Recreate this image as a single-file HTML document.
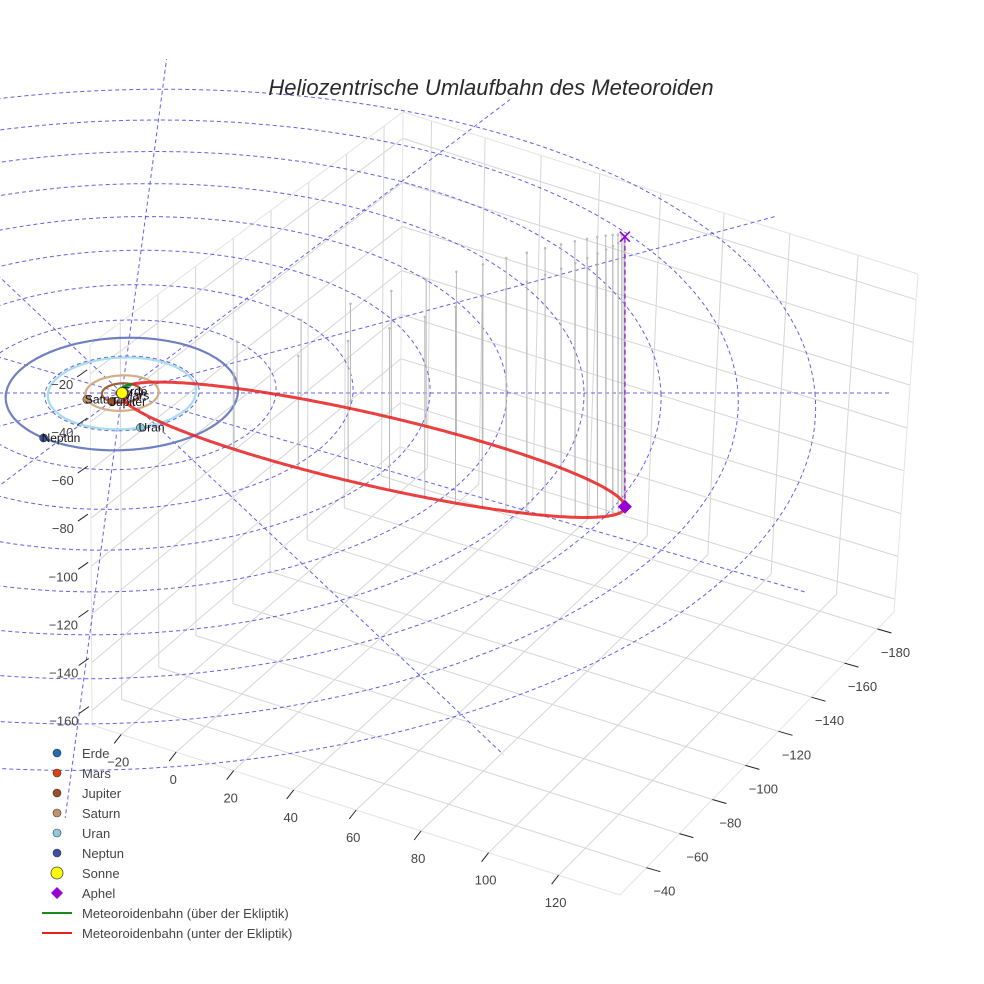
<!DOCTYPE html>
<html><head><meta charset="utf-8">
<style>
html,body{margin:0;padding:0;background:#fff;}
svg{display:block;font-family:"Liberation Sans",Arial,sans-serif;}
</style></head>
<body>
<svg id="chart" width="984" height="984" viewBox="0 0 984 984" xmlns="http://www.w3.org/2000/svg">
<rect x="0" y="0" width="984" height="984" fill="#fff"/>
<g id="grid"></g>
<g id="ecl"></g>
<g id="orbits"></g>
<g id="drops"></g>
<g id="meteor"></g>
<g id="marks"></g>
<g id="axes"></g>
<text x="491" y="95" text-anchor="middle" font-size="22" font-style="italic" fill="#2a2a2a">Heliozentrische Umlaufbahn des Meteoroiden</text>
<g id="legend"></g>
</svg>
<script>
// ---- data ----
const xTicks = [-20, 0, 20, 40, 60, 80, 100, 120];
const yTicks = [-180, -160, -140, -120, -100, -80, -60, -40];
const zTicks = [-160, -140, -120, -100, -80, -60, -40, -20];
const ringRadii = [20, 40, 60, 80, 100, 120, 140, 160, 180];
const radialAngles = [0, 30, 60, 90, 120, 150, 180, 210, 240, 270, 300, 330];
const planetNames = ["Erde", "Mars", "Jupiter", "Saturn", "Uran", "Neptun"];
const planetRadii = [1.0, 1.52, 5.2, 9.5, 19.2, 30.1];
const planetAngles = [-60, 60, 116, 159, 72, 128];
const planetColors = ["#1f6fb0", "#d9430f", "#9a4e2b", "#c4926a", "#8ec9dd", "#3d4fa3"];
const orbitColors = ["#1f6fb0", "#d9430f", "#a0603a", "#d2ad85", "#a9dcec", "#6f81c2"];
const aphelion = [131.8, -88, -123.6];
const minorAxis = [0, -10.5, 7.5];
const perihelionDist = [1.0];
const dropCount = [40];
const radialLength = [200];

// ---- projections ----
const NS = "http://www.w3.org/2000/svg";
const XR = [-31, 137], YR = [-190, -24], ZR = [-166, -8];
const corner = {
  "000": [400, 460], "100": [894, 612], "010": [92, 725], "110": [620, 895],
  "001": [403, 112], "101": [918, 274], "011": [90, 345], "111": [635, 475]
};
function warp(t) { const k = 0.2; return (t + k * t * t) / (1 + k); }
function box(x, y, z) {
  const tx = warp((x - XR[0]) / (XR[1] - XR[0]));
  const ty = (y - YR[0]) / (YR[1] - YR[0]);
  const tz = (z - ZR[0]) / (ZR[1] - ZR[0]);
  let px = 0, py = 0;
  for (const key in corner) {
    const a = key[0] === "1" ? tx : 1 - tx, b = key[1] === "1" ? ty : 1 - ty, c = key[2] === "1" ? tz : 1 - tz;
    px += a * b * c * corner[key][0]; py += a * b * c * corner[key][1];
  }
  return [px, py];
}
function ecl(u, v, z) {
  const w = 1 / (1 - 0.0006 * v);
  return [122 + (3.85 * u - 0.25 * v) * w, 393 + (1.87 * v - 2.3 * z) * w];
}
function mk(tag, parent, attrs) {
  const el = document.createElementNS(NS, tag);
  for (const k in attrs) el.setAttribute(k, attrs[k]);
  parent.appendChild(el);
  return el;
}
function line(parent, p, q, stroke, sw, dash) {
  const el = mk("line", parent, { x1: p[0].toFixed(1), y1: p[1].toFixed(1), x2: q[0].toFixed(1), y2: q[1].toFixed(1), stroke: stroke, "stroke-width": sw });
  if (dash) el.setAttribute("stroke-dasharray", dash);
  return el;
}
function poly(parent, pts, stroke, sw, dash) {
  const el = mk("polyline", parent, { points: pts.map(p => p[0].toFixed(1) + "," + p[1].toFixed(1)).join(" "), fill: "none", stroke: stroke, "stroke-width": sw, "stroke-linejoin": "round" });
  if (dash) el.setAttribute("stroke-dasharray", dash);
  return el;
}

// ---- box grid ----
const grid = document.getElementById("grid");
const gc = "#d6d6d6";
for (const x of xTicks) {
  let l = line(grid, box(x, YR[0], ZR[0]), box(x, YR[1], ZR[0]), gc, 1);
  
  
  l = line(grid, box(x, YR[0], ZR[0]), box(x, YR[0], ZR[1]), gc, 1);
  
  
}
for (const y of yTicks) {
  let l = line(grid, box(XR[0], y, ZR[0]), box(XR[1], y, ZR[0]), gc, 1);
  
  
  l = line(grid, box(XR[0], y, ZR[0]), box(XR[0], y, ZR[1]), gc, 1);
  
  
}
for (const z of zTicks) {
  let l = line(grid, box(XR[0], YR[0], z), box(XR[1], YR[0], z), gc, 1);
  
  
  l = line(grid, box(XR[0], YR[0], z), box(XR[0], YR[1], z), gc, 1);
  
  
}
const edges = [
  [[XR[0], YR[1], ZR[0]], [XR[1], YR[1], ZR[0]]],
  [[XR[1], YR[1], ZR[0]], [XR[1], YR[0], ZR[0]]],
  [[XR[1], YR[0], ZR[0]], [XR[1], YR[0], ZR[1]]],
  [[XR[1], YR[0], ZR[1]], [XR[0], YR[0], ZR[1]]],
  [[XR[0], YR[0], ZR[1]], [XR[0], YR[1], ZR[1]]],
  [[XR[0], YR[0], ZR[0]], [XR[0], YR[0], ZR[1]]],
  [[XR[0], YR[1], ZR[0]], [XR[0], YR[1], ZR[1]]]
];
for (const e of edges) {
  const l = line(grid, box(...e[0]), box(...e[1]), "#e4e4e4", 1);
  
  
}

// ---- ecliptic reference rings & radial lines ----
const eg = document.getElementById("ecl");
const dashC = "rgba(70,70,225,0.85)";
for (const r of ringRadii) {
  const pts = [];
  for (let i = 0; i <= 240; i++) { const a = i / 240 * 2 * Math.PI; pts.push(ecl(r * Math.cos(a), r * Math.sin(a), 0)); }
  const p = poly(eg, pts, dashC, 1, "4,3");
  
  
}
for (const ang of radialAngles) {
  const a = ang * Math.PI / 180, R = radialLength[0];
  const l = line(eg, ecl(0, 0, 0), ecl(R * Math.cos(a), R * Math.sin(a), 0), dashC, 1, "4,3");
  
  
}

// ---- planet orbits ----
const og = document.getElementById("orbits");
for (let k = 0; k < planetNames.length; k++) {
  const r = planetRadii[k], pts = [];
  for (let i = 0; i <= 160; i++) { const a = i / 160 * 2 * Math.PI; pts.push(ecl(r * Math.cos(a), r * Math.sin(a), 0)); }
  const p = poly(og, pts, orbitColors[k], 2.2);
  
  
}

// ---- meteoroid orbit ----
const Q = aphelion, qd = perihelionDist[0];
const Qlen = Math.hypot(Q[0], Q[1], Q[2]);
const ecc = (Qlen - qd) / (Qlen + qd);
const cf = ((Qlen - qd) / 2) / Qlen;
const Cc = Q.map(v => v * cf);
function orbitPt(E) {
  return [0, 1, 2].map(i => Cc[i] + Math.cos(E) * (Q[i] - Cc[i]) + Math.sin(E) * minorAxis[i]);
}
const dg = document.getElementById("drops");
const N = dropCount[0];
for (let i = 0; i < N; i++) {
  const M = i / N * 2 * Math.PI;
  let E = M; for (let it = 0; it < 200; it++) E = M + ecc * Math.sin(E);
  const P = orbitPt(E + Math.PI);
  const a = ecl(P[0], P[1], P[2]), b = ecl(P[0], P[1], 0);
  const l = line(dg, a, b, "#b8b8b8", 1);
  
  
  const c = mk("circle", dg, { cx: b[0].toFixed(1), cy: b[1].toFixed(1), r: 1.3, fill: "#bdbdbd" });
  
  
}
const mg = document.getElementById("meteor");
let seg = [], segSign = null;
function flush() {
  if (seg.length > 1) {
    const p = poly(mg, seg, segSign ? "#1a8a1a" : "rgba(232,30,30,0.85)", 3);
    
    
  }
}
for (let i = 0; i <= 500; i++) {
  const E = i / 500 * 2 * Math.PI;
  const P = orbitPt(E);
  const s = P[2] >= 0;
  const sp = ecl(P[0], P[1], P[2]);
  if (segSign === null) segSign = s;
  if (s !== segSign) { seg.push(sp); flush(); seg = [sp]; segSign = s; } else seg.push(sp);
}
flush();

// ---- markers ----
const kg = document.getElementById("marks");
const ap = ecl(Q[0], Q[1], Q[2]), apProj = ecl(Q[0], Q[1], 0);
let el = line(kg, ap, apProj, "#9b30c8", 1.5, "5,3");


el = mk("path", kg, { d: `M${apProj[0]-5},${apProj[1]-5}L${apProj[0]+5},${apProj[1]+5}M${apProj[0]+5},${apProj[1]-5}L${apProj[0]-5},${apProj[1]+5}`, stroke: "#9400d3", "stroke-width": 1.6 });


el = mk("path", kg, { d: `M${ap[0]},${ap[1]-7}L${ap[0]+7},${ap[1]}L${ap[0]},${ap[1]+7}L${ap[0]-7},${ap[1]}Z`, fill: "#9400d3" });


for (let k = planetNames.length - 1; k >= 0; k--) {
  const a = planetAngles[k] * Math.PI / 180;
  const p = ecl(planetRadii[k] * Math.cos(a), planetRadii[k] * Math.sin(a), 0);
  const c = mk("circle", kg, { cx: p[0].toFixed(1), cy: p[1].toFixed(1), r: 4, fill: planetColors[k], stroke: "#333", "stroke-width": 0.6 });
  
  
  const t = mk("text", kg, { x: (p[0] - 2).toFixed(1), y: (p[1] + 4).toFixed(1), "font-size": 12, fill: "#111" });
  t.textContent = planetNames[k];
  
  
}
const sun = ecl(0, 0, 0);
el = mk("circle", kg, { cx: sun[0], cy: sun[1], r: 5.5, fill: "#ffff00", stroke: "#444", "stroke-width": 0.8 });



// ---- axes ticks & labels ----
const ag = document.getElementById("axes");
for (const x of xTicks) {
  const p = box(x, YR[1], ZR[0]);
  let l = line(ag, p, [p[0] - 7, p[1] + 9], "#222", 1);
  
  
  const t = mk("text", ag, { x: (p[0] - 3).toFixed(1), y: (p[1] + 32).toFixed(1), "text-anchor": "middle", "font-size": 13, fill: "#444" });
  t.textContent = x < 0 ? "\u2212" + Math.abs(x) : String(x);
  
  
}
for (const y of yTicks) {
  const p = box(XR[1], y, ZR[0]);
  let l = line(ag, p, [p[0] + 14, p[1] + 4], "#222", 1);
  
  
  const t = mk("text", ag, { x: (p[0] + 18).toFixed(1), y: (p[1] + 28).toFixed(1), "text-anchor": "middle", "font-size": 13, fill: "#444" });
  t.textContent = "\u2212" + Math.abs(y);
  
  
}
for (const z of zTicks) {
  const p = box(XR[0], YR[1], z);
  let l = line(ag, [p[0] - 3, p[1] - 4], [p[0] - 13, p[1] + 3], "#222", 1);
  
  
  const t = mk("text", ag, { x: (p[0] - 28).toFixed(1), y: (p[1] + 15).toFixed(1), "text-anchor": "middle", "font-size": 13, fill: "#444" });
  t.textContent = "\u2212" + Math.abs(z);
  
  
}

// ---- legend ----
const lg = document.getElementById("legend");
const legendLabels = ["Erde", "Mars", "Jupiter", "Saturn", "Uran", "Neptun", "Sonne", "Aphel", "Meteoroidenbahn (über der Ekliptik)", "Meteoroidenbahn (unter der Ekliptik)"];
legendLabels.forEach((name, i) => {
  const y = 753 + i * 20;
  const g = mk("g", lg, {});
  
  
  if (i < 6) mk("circle", g, { cx: 57, cy: y, r: 4, fill: planetColors[i], stroke: "#333", "stroke-width": 0.6 });
  else if (i === 6) mk("circle", g, { cx: 57, cy: y, r: 6, fill: "#ffff00", stroke: "#444", "stroke-width": 0.8 });
  else if (i === 7) mk("path", g, { d: `M57,${y-6}L63,${y}L57,${y+6}L51,${y}Z`, fill: "#9400d3" });
  else mk("line", g, { x1: 42, y1: y, x2: 72, y2: y, stroke: i === 8 ? "#1a8a1a" : "#e82020", "stroke-width": 2 });
  const t = mk("text", g, { x: 82, y: y + 5, "font-size": 13, fill: "#444" });
  t.textContent = name;
});
</script>
</body></html>
